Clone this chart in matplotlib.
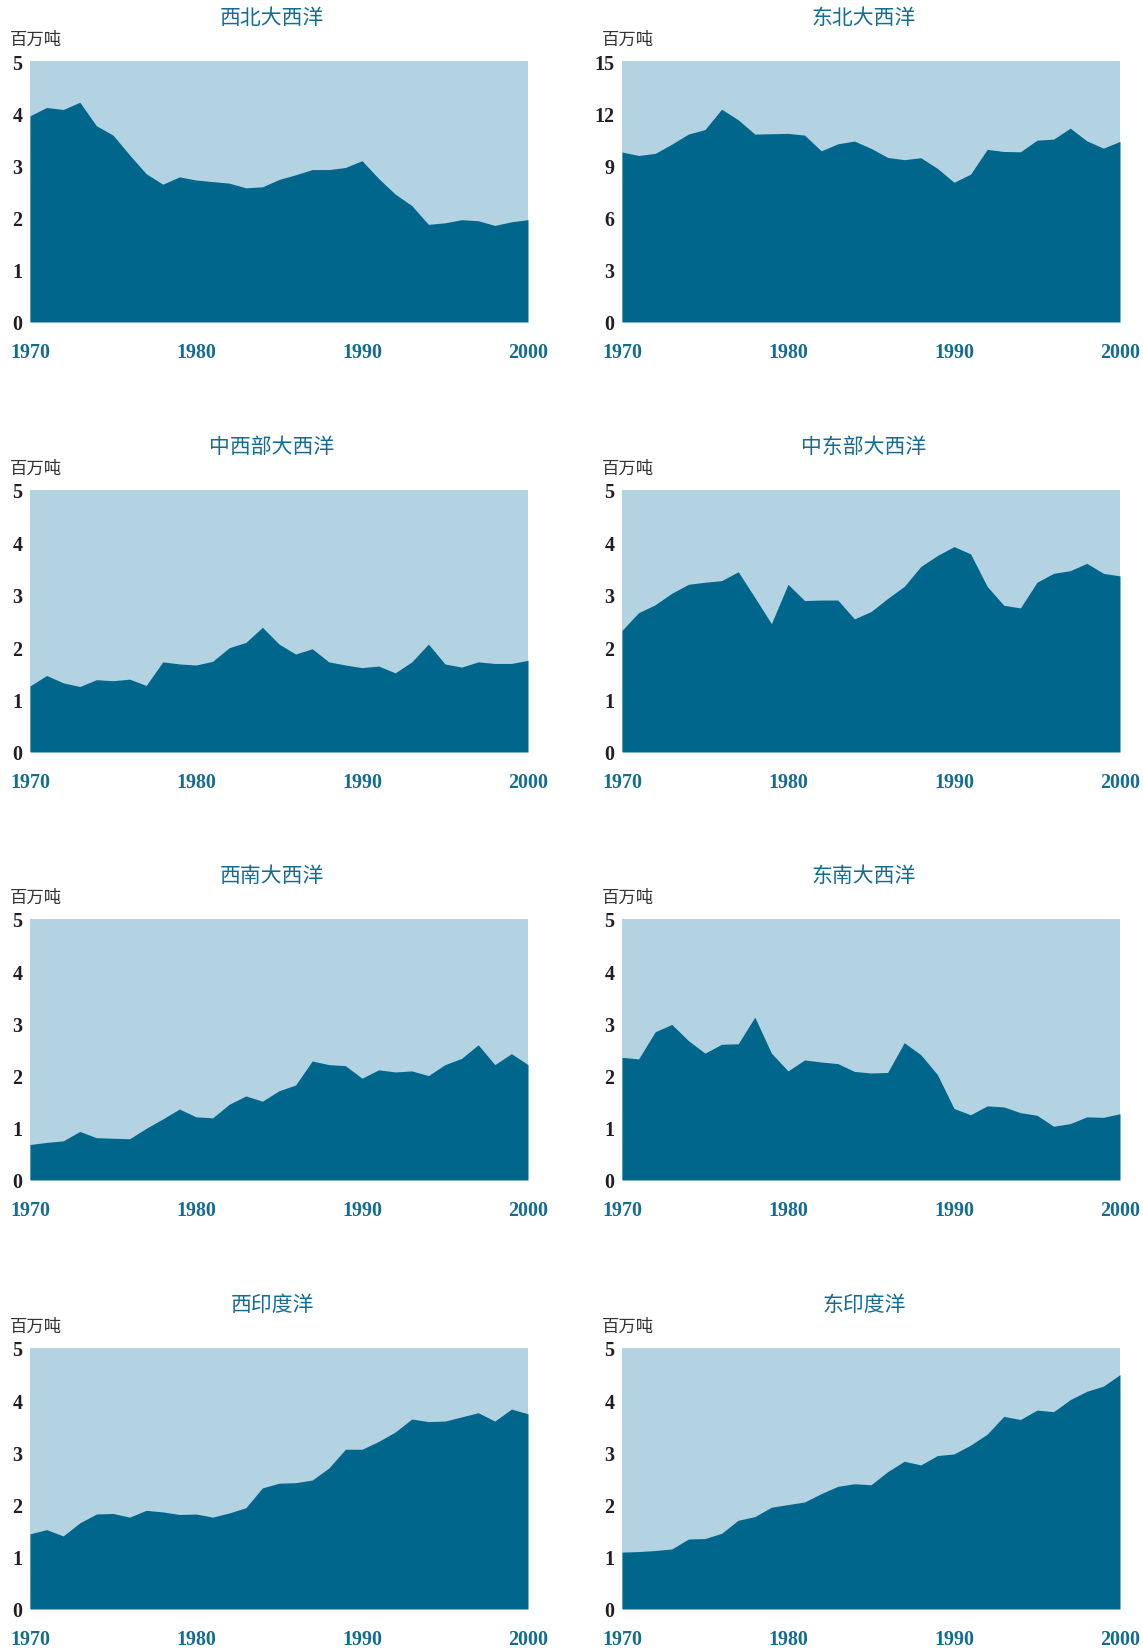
import matplotlib
matplotlib.use("Agg")
import matplotlib.pyplot as plt

years = list(range(1970, 2001))

nw_atlantic = [3.95, 4.11, 4.07, 4.21, 3.76, 3.58, 3.20, 2.84, 2.64, 2.78,
               2.72, 2.69, 2.66, 2.57, 2.59, 2.73, 2.82, 2.92, 2.92, 2.96,
               3.09, 2.75, 2.45, 2.23, 1.87, 1.90, 1.96, 1.94, 1.85, 1.92, 1.96]
ne_atlantic = [9.77, 9.57, 9.69, 10.22, 10.80, 11.06, 12.23, 11.62, 10.80, 10.82,
               10.84, 10.74, 9.84, 10.24, 10.40, 9.98, 9.46, 9.33, 9.44, 8.83,
               8.03, 8.50, 9.92, 9.80, 9.78, 10.45, 10.51, 11.14, 10.41, 9.99, 10.38]
wc_atlantic = [1.26, 1.46, 1.32, 1.25, 1.38, 1.36, 1.39, 1.27, 1.72, 1.68,
               1.66, 1.73, 1.99, 2.09, 2.38, 2.06, 1.87, 1.97, 1.72, 1.66,
               1.61, 1.64, 1.51, 1.72, 2.06, 1.68, 1.62, 1.72, 1.69, 1.69, 1.75]
ec_atlantic = [2.32, 2.66, 2.81, 3.03, 3.20, 3.24, 3.27, 3.44, 2.95, 2.45,
               3.20, 2.89, 2.90, 2.90, 2.54, 2.68, 2.93, 3.16, 3.54, 3.75,
               3.92, 3.78, 3.16, 2.80, 2.75, 3.24, 3.41, 3.46, 3.60, 3.41, 3.36]
sw_atlantic = [0.68, 0.72, 0.75, 0.93, 0.81, 0.80, 0.79, 0.99, 1.17, 1.36,
               1.21, 1.19, 1.45, 1.61, 1.51, 1.71, 1.82, 2.28, 2.21, 2.19,
               1.95, 2.11, 2.07, 2.09, 2.00, 2.21, 2.33, 2.59, 2.21, 2.42, 2.21]
se_atlantic = [2.35, 2.32, 2.84, 2.98, 2.67, 2.43, 2.60, 2.61, 3.12, 2.43,
               2.09, 2.30, 2.26, 2.23, 2.08, 2.05, 2.06, 2.63, 2.40, 2.02,
               1.37, 1.25, 1.42, 1.40, 1.29, 1.24, 1.03, 1.08, 1.21, 1.20, 1.27]
w_indian = [1.44, 1.52, 1.40, 1.65, 1.82, 1.83, 1.76, 1.89, 1.86, 1.81,
            1.82, 1.76, 1.84, 1.94, 2.32, 2.41, 2.42, 2.47, 2.70, 3.06,
            3.06, 3.21, 3.39, 3.64, 3.59, 3.60, 3.68, 3.76, 3.60, 3.83, 3.74]
e_indian = [1.09, 1.10, 1.12, 1.15, 1.34, 1.35, 1.45, 1.70, 1.77, 1.95,
            2.00, 2.05, 2.21, 2.35, 2.40, 2.38, 2.63, 2.83, 2.76, 2.94,
            2.97, 3.14, 3.35, 3.69, 3.63, 3.81, 3.78, 4.01, 4.17, 4.27, 4.49]

titles = ["西北大西洋", "东北大西洋", "中西部大西洋", "中东部大西洋",
          "西南大西洋", "东南大西洋", "西印度洋", "东印度洋"]
series = [nw_atlantic, ne_atlantic, wc_atlantic, ec_atlantic,
          sw_atlantic, se_atlantic, w_indian, e_indian]
y_max = [5, 15, 5, 5, 5, 5, 5, 5]
y_step = [1, 3, 1, 1, 1, 1, 1, 1]
x_ticks = [1970, 1980, 1990, 2000]
unit_label = "百万吨"

DARK = "#00668c"
LIGHT = "#b3d3e2"
TEXT_BLUE = "#146c93"
TEXT_DARK = "#231f20"

W, H = 1143, 1649
fig = plt.figure(figsize=(W / 100, H / 100), dpi=100)
fig.patch.set_facecolor("white")

# axes boxes in pixel coordinates: (left, right) per column, (top, bottom) per row
col_x = [(30, 528), (622, 1120)]
row_y = [(62, 323), (491, 753), (920, 1181), (1349, 1610)]

for i, (title, vals) in enumerate(zip(titles, series)):
    r, c = divmod(i, 2)
    x0, x1 = col_x[c]
    y0, y1 = row_y[r]
    ax = fig.add_axes([x0 / W, 1 - y1 / H, (x1 - x0) / W, (y1 - y0) / H])
    ax.set_facecolor(LIGHT)
    ax.fill_between(years, 0, vals, color=DARK, linewidth=0)
    ax.set_xlim(1970, 2000)
    ax.set_ylim(0, y_max[i])
    ax.set_xticks(x_ticks)
    ax.set_yticks(list(range(0, y_max[i] + 1, y_step[i])))
    for s in ax.spines.values():
        s.set_visible(False)
    ax.tick_params(axis="both", length=0)
    ax.tick_params(axis="x", pad=14.5, colors=TEXT_BLUE)
    ax.tick_params(axis="y", pad=5.5, colors=TEXT_DARK)
    for lab in ax.get_xticklabels() + ax.get_yticklabels():
        lab.set_fontfamily("Liberation Serif")
        lab.set_fontweight("bold")
        lab.set_fontsize(14.4)
    ax.annotate(title, xy=(0.5, 1), xycoords="axes fraction",
                xytext=(-7, 44), textcoords="offset pixels",
                ha="center", va="center", fontsize=15,
                family=["Noto Sans CJK SC", "DejaVu Sans"], color=TEXT_BLUE)
    ax.annotate(unit_label, xy=(0, 1), xycoords="axes fraction",
                xytext=(-20, 22), textcoords="offset pixels",
                ha="left", va="center", fontsize=12.5, fontweight="light",
                family=["Noto Sans CJK SC", "DejaVu Sans"], color="#333333")

fig.savefig("out.png", dpi=100, facecolor="white")
